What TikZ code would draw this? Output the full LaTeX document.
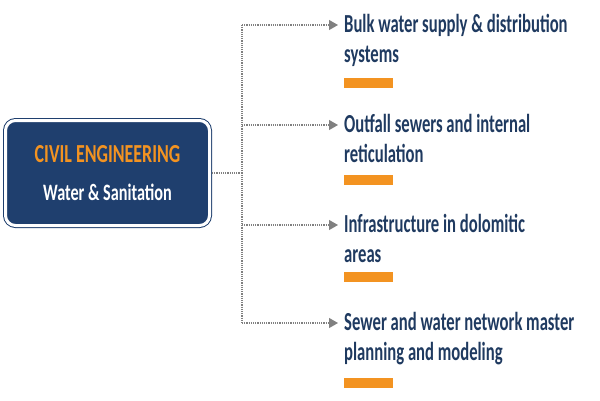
\documentclass[tikz,border=0pt]{standalone}
\usepackage{fontspec}
\setmainfont{Carlito}[FakeStretch=0.69]
\newfontfamily\itemfont{Carlito}[FakeStretch=0.64]
\usetikzlibrary{arrows.meta,positioning}
\definecolor{navy}{HTML}{1F3F6E}
\definecolor{ink}{HTML}{1F3A60}
\definecolor{amber}{HTML}{F39321}
\begin{document}
\begin{tikzpicture}[x=1pt, y=-1pt,
  link/.style = {draw=gray, densely dotted, line width=1.2pt},
  hub/.style = {draw=navy, double=white, double distance=3pt, line width=1pt,
    fill=navy, rounded corners=10pt, minimum width=204pt, minimum height=105pt,
    align=center, text=white, outer sep=2.5pt, font=\bfseries},
  item/.style = {anchor=base west, align=left, inner sep=0pt, text=ink,
    font=\itemfont\fontsize{26}{30}\selectfont\bfseries},
  bar/.style = {fill=amber, minimum width=49pt, minimum height=10pt,
    inner sep=0pt, anchor=north west}]
  \useasboundingbox (0,0) rectangle (600,400);
  \node[hub] (civil) at (107.5,173)
    {\fontsize{26}{30}\selectfont\textcolor{amber}{CIVIL ENGINEERING}\\[21pt]
     \fontsize{23.5}{28}\selectfont Water \& Sanitation};
  \foreach \i/\y/\b/\txt in {1/25/78/{Bulk water supply \& distribution\\systems},
      2/125/175/{Outfall sewers and internal\\reticulation},
      3/225/272/{Infrastructure in dolomitic\\areas},
      4/323/378/{Sewer and water network master\\planning and modeling}} {
    \coordinate (fork\i) at (242,\y);
    \node[item] (item\i) at (344,\y+37) {\txt};
    \node[bar] (bar\i) at (344,\b) {};
    \draw[link, -{Triangle[length=9pt, width=10pt]}, shorten >=6pt]
      (fork\i) -- (fork\i -| item\i.west);
  }
  \draw[link] (fork1) -- (fork4);
  \draw[link] (civil.east) -- (civil.east -| fork1);
\end{tikzpicture}
\end{document}
